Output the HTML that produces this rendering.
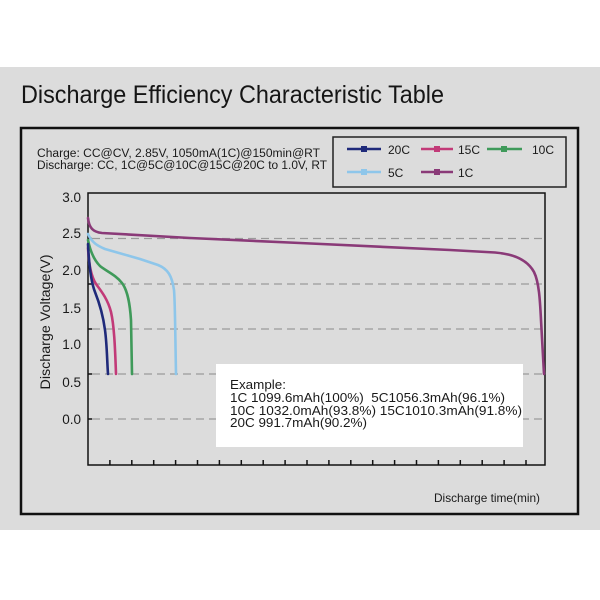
<!DOCTYPE html>
<html><head><meta charset="utf-8"><style>
html,body{margin:0;padding:0;background:#fff;}
svg{display:block;}
text{font-family:"Liberation Sans",Arial,sans-serif;fill:#1a1a1a;}
</style></head><body>
<svg width="600" height="600" viewBox="0 0 600 600" xmlns="http://www.w3.org/2000/svg">
<rect x="0" y="0" width="600" height="600" fill="#ffffff"/>
<rect x="0" y="67" width="600" height="463" fill="#dcdcdc"/>
<text x="21" y="103" font-size="25" textLength="423" lengthAdjust="spacingAndGlyphs" style="fill:#151515">Discharge Efficiency Characteristic Table</text>
<rect x="21" y="128" width="557" height="386" fill="#dcdcdc" stroke="#111" stroke-width="2.5"/>
<text x="37" y="157" font-size="11.5" textLength="283" lengthAdjust="spacingAndGlyphs">Charge: CC@CV, 2.85V, 1050mA(1C)@150min@RT</text>
<text x="37" y="169" font-size="11.5" textLength="290" lengthAdjust="spacingAndGlyphs">Discharge: CC, 1C@5C@10C@15C@20C to 1.0V, RT</text>
<!-- legend -->
<rect x="333" y="137" width="233" height="50" fill="#dcdcdc" stroke="#222" stroke-width="1.5"/>
<g stroke-width="2.5">
<line x1="347" y1="149" x2="381" y2="149" stroke="#1f2a7a"/><rect x="361" y="146" width="6" height="6" fill="#1f2a7a"/>
<line x1="421" y1="149" x2="453" y2="149" stroke="#c23a78"/><rect x="434" y="146" width="6" height="6" fill="#c23a78"/>
<line x1="487" y1="149" x2="522" y2="149" stroke="#3f9a5a"/><rect x="501" y="146" width="6" height="6" fill="#3f9a5a"/>
<line x1="347" y1="172" x2="381" y2="172" stroke="#8ec6ea"/><rect x="361" y="169" width="6" height="6" fill="#8ec6ea"/>
<line x1="421" y1="172" x2="453" y2="172" stroke="#8a3a78"/><rect x="434" y="169" width="6" height="6" fill="#8a3a78"/>
</g>
<text x="388" y="154" font-size="12">20C</text>
<text x="458" y="154" font-size="12">15C</text>
<text x="532" y="154" font-size="12">10C</text>
<text x="388" y="177" font-size="12">5C</text>
<text x="458" y="177" font-size="12">1C</text>
<!-- plot -->
<rect x="88" y="193" width="457" height="272" fill="#dcdcdc" stroke="#111" stroke-width="1.5"/>
<g stroke="#9a9a9a" stroke-width="1.3" stroke-dasharray="8,5">
<line x1="92" y1="238.5" x2="545" y2="238.5"/>
<line x1="92" y1="284" x2="545" y2="284"/>
<line x1="92" y1="329" x2="545" y2="329"/>
<line x1="92" y1="374" x2="545" y2="374"/>
<line x1="92" y1="419" x2="545" y2="419"/>
</g>
<g stroke="#111" stroke-width="1.5">
<line x1="88" y1="238.5" x2="92" y2="238.5"/>
<line x1="88" y1="284" x2="92" y2="284"/>
<line x1="88" y1="329" x2="92" y2="329"/>
<line x1="88" y1="374" x2="92" y2="374"/>
<line x1="88" y1="419" x2="92" y2="419"/>
<line x1="109.9" y1="460" x2="109.9" y2="465"/>
<line x1="131.8" y1="460" x2="131.8" y2="465"/>
<line x1="153.7" y1="460" x2="153.7" y2="465"/>
<line x1="175.6" y1="460" x2="175.6" y2="465"/>
<line x1="197.5" y1="460" x2="197.5" y2="465"/>
<line x1="219.4" y1="460" x2="219.4" y2="465"/>
<line x1="241.3" y1="460" x2="241.3" y2="465"/>
<line x1="263.2" y1="460" x2="263.2" y2="465"/>
<line x1="285.1" y1="460" x2="285.1" y2="465"/>
<line x1="307" y1="460" x2="307" y2="465"/>
<line x1="328.9" y1="460" x2="328.9" y2="465"/>
<line x1="350.8" y1="460" x2="350.8" y2="465"/>
<line x1="372.7" y1="460" x2="372.7" y2="465"/>
<line x1="394.6" y1="460" x2="394.6" y2="465"/>
<line x1="416.5" y1="460" x2="416.5" y2="465"/>
<line x1="438.4" y1="460" x2="438.4" y2="465"/>
<line x1="460.3" y1="460" x2="460.3" y2="465"/>
<line x1="482.2" y1="460" x2="482.2" y2="465"/>
<line x1="504.1" y1="460" x2="504.1" y2="465"/>
<line x1="526" y1="460" x2="526" y2="465"/>
</g>
<g font-size="13.5" text-anchor="end">
<text x="81" y="202">3.0</text>
<text x="81" y="238">2.5</text>
<text x="81" y="275">2.0</text>
<text x="81" y="313">1.5</text>
<text x="81" y="349">1.0</text>
<text x="81" y="387">0.5</text>
<text x="81" y="424">0.0</text>
</g>
<text transform="translate(50,322) rotate(-90)" font-size="13.5" text-anchor="middle" textLength="135" lengthAdjust="spacingAndGlyphs">Discharge Voltage(V)</text>
<!-- curves -->
<g fill="none" stroke-width="2.6" stroke-linecap="round" stroke-linejoin="round">
<path d="M88,218 C89,228 93,232 102,233 L190,238 L300,243 L450,250 L495,252.5 C515,254 528,261 534,272 C539,282 540,300 541,320 L544,374" stroke="#8a3a78"/>
<path d="M88,234 C92,243 98,246 105,249 L140,259 L158,265 C168,269 172,276 174,290 C175,300 175,320 176,374" stroke="#8ec6ea"/>
<path d="M88,240 C90,250 94,260 100,266 C106,271 116,275 122,283 C128,291 130,305 131,320 L132,374" stroke="#3f9a5a"/>
<path d="M88,248 C89,265 91,276 96,284 C102,292 108,300 111,312 C114,325 115,345 116,374" stroke="#c23a78"/>
<path d="M88,244 C89,265 91,282 95,292 C99,302 103,315 105,330 C107,345 107,360 108,374" stroke="#1f2a7a"/>
</g>
<!-- example box -->
<rect x="216" y="364" width="307" height="83" fill="#ffffff"/>
<g font-size="13">
<text x="230" y="389" textLength="56" lengthAdjust="spacingAndGlyphs">Example:</text>
<text x="230" y="402" textLength="275" lengthAdjust="spacingAndGlyphs" xml:space="preserve">1C 1099.6mAh(100%)  5C1056.3mAh(96.1%)</text>
<text x="230" y="415" textLength="292" lengthAdjust="spacingAndGlyphs">10C 1032.0mAh(93.8%) 15C1010.3mAh(91.8%)</text>
<text x="230" y="427" textLength="137" lengthAdjust="spacingAndGlyphs">20C 991.7mAh(90.2%)</text>
</g>
<text x="434" y="502" font-size="12" textLength="106" lengthAdjust="spacingAndGlyphs">Discharge time(min)</text>
</svg>
</body></html>
